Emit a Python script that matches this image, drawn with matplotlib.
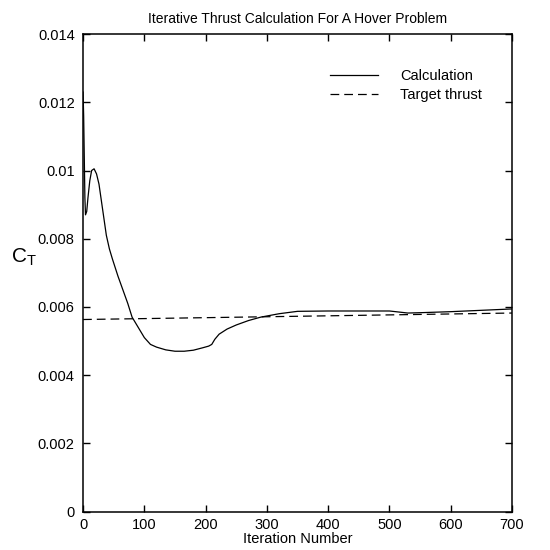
import matplotlib
matplotlib.use("Agg")
import matplotlib.pyplot as plt
from matplotlib.ticker import FuncFormatter

plt.rcParams['font.family'] = ['Liberation Sans', 'DejaVu Sans']

calc_iter = [0, 1, 2, 3, 4, 6, 8, 11, 14, 18, 22, 26, 30, 34, 38, 43, 48, 57, 65, 73,
             80, 90, 100, 110, 120, 135, 150, 165, 180, 195, 205, 210, 215, 222, 235,
             250, 270, 290, 320, 350, 400, 450, 500, 515, 530, 550, 600, 650, 700]
calc_ct = [0.0123, 0.0116, 0.0104, 0.0092, 0.0087, 0.0088, 0.0092, 0.0097, 0.0100, 0.01005,
           0.0099, 0.0096, 0.0091, 0.0086, 0.0081, 0.0077, 0.0074, 0.0069, 0.0065, 0.0061,
           0.0057, 0.0054, 0.0051, 0.0049, 0.00482, 0.00474, 0.0047, 0.0047, 0.00473, 0.0048,
           0.00485, 0.0049, 0.00505, 0.0052, 0.00535, 0.00547, 0.0056, 0.0057, 0.0058, 0.00587,
           0.00588, 0.00588, 0.00588, 0.00585, 0.00582, 0.00583, 0.00586, 0.0059, 0.00594]

target_iter = [0, 700]
target_ct = [0.00563, 0.00582]

x_ticks = [0, 100, 200, 300, 400, 500, 600, 700]
y_ticks = [0, 0.002, 0.004, 0.006, 0.008, 0.010, 0.012, 0.014]

fig = plt.figure(figsize=(5.5, 5.5), dpi=100)
ax = fig.add_axes([0.151, 0.07, 0.78, 0.868])

ax.plot(calc_iter, calc_ct, color='black', lw=0.9, label='Calculation')
ax.plot(target_iter, target_ct, color='black', lw=0.9, dashes=(7, 4), label='Target thrust')

ax.set_xlim(0, 700)
ax.set_ylim(0, 0.014)
ax.set_xticks(x_ticks)
ax.set_yticks(y_ticks)
ax.yaxis.set_major_formatter(FuncFormatter(lambda v, p: '0' if v == 0 else '{:g}'.format(round(v, 4))))
ax.tick_params(direction='in', length=5, width=1, top=True, right=True,
               labelsize=10.5)
ax.tick_params(axis='x', pad=5)
ax.tick_params(axis='y', pad=6)
for s in ax.spines.values():
    s.set_linewidth(1.1)

ax.set_title('Iterative Thrust Calculation For A Hover Problem', fontsize=10, pad=8)
ax.set_xlabel('Iteration Number', fontsize=10.5, labelpad=0)
ax.set_ylabel('C$_\\mathregular{T}$', fontsize=15, rotation=0)
ax.yaxis.set_label_coords(-0.138, 0.51)

leg = ax.legend(loc='upper right', bbox_to_anchor=(0.96, 0.955), frameon=False,
                fontsize=10.5, handlelength=3.3, handletextpad=1.5, labelspacing=0.35)

fig.savefig('out.png', dpi=100)
